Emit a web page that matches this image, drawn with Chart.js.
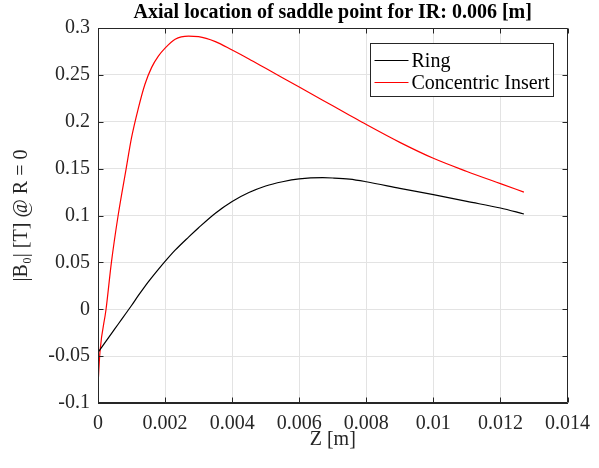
<!DOCTYPE html>
<html>
<head>
<meta charset="utf-8">
<script src="https://cdn.jsdelivr.net/npm/chart.js@4.4.1/dist/chart.umd.min.js"></script>
<style>
  html, body { margin: 0; padding: 0; background: #fff; }
  #wrap { width: 599px; height: 468px; }
</style>
</head>
<body>
<div id="wrap"><canvas id="saddleChart"></canvas></div>
<script>
// axial position along the bore [m]
const zPositions = [0, 0.00006, 0.00024, 0.0004, 0.0006, 0.00084, 0.001, 0.0012, 0.0014, 0.0016,
  0.0018, 0.002, 0.0023, 0.0027, 0.003, 0.0035, 0.004, 0.0045, 0.005, 0.0055, 0.006,
  0.0067, 0.007, 0.0075, 0.008, 0.009, 0.01, 0.011, 0.012, 0.0127];

// |B0| on axis [T]
const ringField = [-0.046, -0.043, -0.034, -0.026, -0.016, -0.004, 0.004, 0.0145, 0.0245, 0.0337,
  0.0425, 0.051, 0.063, 0.077, 0.087, 0.1025, 0.115, 0.1245, 0.1315, 0.136, 0.139,
  0.1403, 0.14, 0.1388, 0.136, 0.129, 0.1222, 0.115, 0.108, 0.1016];
const insertField = [-0.081, -0.045, 0, 0.05, 0.1, 0.15, 0.183, 0.214, 0.24, 0.258,
  0.27, 0.2785, 0.288, 0.2913, 0.2908, 0.2855, 0.2765, 0.267, 0.257, 0.247, 0.237,
  0.223, 0.217, 0.207, 0.197, 0.178, 0.161, 0.147, 0.134, 0.125];

const seriesLabels = ['Ring', 'Concentric Insert'];
const xTickValues = [0, 0.002, 0.004, 0.006, 0.008, 0.01, 0.012, 0.014];
const yTickValues = [-0.1, -0.05, 0, 0.05, 0.1, 0.15, 0.2, 0.25, 0.3];

const serif = '"Liberation Serif", "Times New Roman", serif';
const axisColor = '#262626';
const fmt = v => String(parseFloat(Number(v).toFixed(4)));

// box round the axes, inward ticks and the legend, MATLAB style
const matlabFrame = {
  id: 'matlabFrame',
  afterDatasetsDraw(chart) {
    const { ctx, chartArea: a, scales: { x, y } } = chart;
    const L = Math.round(a.left) + 0.5, R = Math.round(a.right) - 0.5;
    const T = Math.round(a.top) + 0.5, B = Math.round(a.bottom) - 0.5;
    ctx.save();
    ctx.strokeStyle = axisColor;
    ctx.lineWidth = 1;
    ctx.beginPath();
    ctx.rect(L, T, R - L, B - T);
    xTickValues.forEach(v => {
      const px = Math.round(x.getPixelForValue(v)) + 0.5;
      ctx.moveTo(px, B); ctx.lineTo(px, B - 5);
      ctx.moveTo(px, T); ctx.lineTo(px, T + 5);
    });
    yTickValues.forEach(v => {
      const py = Math.round(y.getPixelForValue(v)) + 0.5;
      ctx.moveTo(L, py); ctx.lineTo(L + 5, py);
      ctx.moveTo(R, py); ctx.lineTo(R - 5, py);
    });
    ctx.stroke();
    ctx.restore();
  },
  afterDraw(chart) {
    const { ctx, chartArea: a } = chart;
    const sets = chart.data.datasets;
    ctx.save();
    ctx.font = '20px ' + serif;
    const textW = Math.max(...sets.map(d => ctx.measureText(d.label).width));
    const w = Math.round(4 + 34 + 3 + textW + 4);
    const h = 53;
    const left = Math.round(a.right - 15 - w) + 0.5;
    const top = Math.round(a.top + 15) + 0.5;
    ctx.fillStyle = '#fff';
    ctx.fillRect(left, top, w, h);
    ctx.strokeStyle = axisColor;
    ctx.lineWidth = 1;
    ctx.strokeRect(left, top, w, h);
    ctx.textBaseline = 'middle';
    ctx.textAlign = 'left';
    sets.forEach((d, i) => {
      const cy = Math.round(top + 16 + i * 22) + 0.5;
      ctx.strokeStyle = d.borderColor;
      ctx.beginPath();
      ctx.moveTo(left + 4, cy);
      ctx.lineTo(left + 38, cy);
      ctx.stroke();
      ctx.fillStyle = '#000';
      ctx.fillText(d.label, left + 41, cy + 1);
    });
    ctx.restore();
  }
};

const toPoints = vals => vals.map((v, i) => ({ x: zPositions[i], y: v }));

new Chart(document.getElementById('saddleChart'), {
  type: 'line',
  data: {
    datasets: [
      {
        label: seriesLabels[0],
        data: toPoints(ringField),
        borderColor: '#000000',
        borderWidth: 1.2,
        pointRadius: 0,
        cubicInterpolationMode: 'monotone'
      },
      {
        label: seriesLabels[1],
        data: toPoints(insertField),
        borderColor: '#ff0000',
        borderWidth: 1.2,
        pointRadius: 0,
        cubicInterpolationMode: 'monotone'
      }
    ]
  },
  options: {
    responsive: true,
    maintainAspectRatio: false,
    animation: false,
    layout: { padding: { top: 0, right: 25, bottom: 0, left: 0 } },
    plugins: {
      legend: { display: false },
      tooltip: { enabled: false },
      title: {
        display: true,
        fullSize: false,
        text: 'Axial location of saddle point for IR: 0.006 [m]',
        color: '#000',
        font: { family: serif, size: 20, weight: 'bold' },
        padding: { top: 1, bottom: 3 }
      }
    },
    scales: {
      x: {
        type: 'linear',
        min: 0,
        max: 0.014,
        afterBuildTicks: s => { s.ticks = xTickValues.map(v => ({ value: v })); },
        afterFit: s => { s.height = 65; },
        ticks: {
          callback: v => fmt(v),
          color: axisColor,
          font: { family: serif, size: 20 },
          padding: 9,
          maxRotation: 0,
          autoSkip: false
        },
        grid: { color: '#e3e3e3', drawTicks: false },
        border: { color: axisColor },
        title: {
          display: true,
          text: 'Z [m]',
          color: axisColor,
          font: { family: serif, size: 20 },
          padding: { top: 0, bottom: 16 }
        }
      },
      y: {
        min: -0.1,
        max: 0.3,
        afterBuildTicks: s => { s.ticks = yTickValues.map(v => ({ value: v })); },
        afterFit: s => { s.width = 98; },
        ticks: {
          callback: v => fmt(v),
          color: axisColor,
          font: { family: serif, size: 20 },
          padding: 8
        },
        grid: { color: '#e3e3e3', drawTicks: false },
        border: { color: axisColor },
        title: {
          display: true,
          text: '|B₀| [T] @ R = 0',
          color: axisColor,
          font: { family: serif, size: 20 },
          padding: { top: 10, bottom: 0 }
        }
      }
    }
  },
  plugins: [matlabFrame]
});
</script>
</body>
</html>
